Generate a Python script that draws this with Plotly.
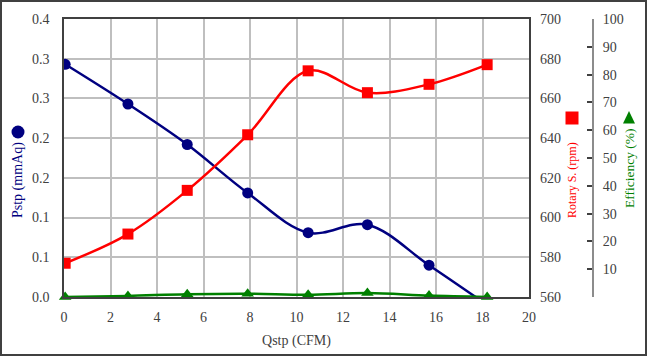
import plotly.graph_objects as go

# ---- data ----
qstp = [0.05, 2.75, 5.3, 7.9, 10.5, 13.05, 15.7, 18.2]
pstp = [0.293, 0.243, 0.192, 0.131, 0.081, 0.091, 0.040, -0.010]
rotary = [577, 591.7, 613.7, 641.7, 673.9, 662.9, 667.1, 677]
efficiency = [0.0, 0.4, 1.0, 1.2, 0.8, 1.4, 0.5, 0.0]

pstp_tickvals = [0, 0.05, 0.10, 0.15, 0.20, 0.25, 0.30, 0.35]
pstp_ticktext = ["0.0", "0.1", "0.1", "0.2", "0.2", "0.3", "0.3", "0.4"]
eff_tickvals = [0, 10, 20, 30, 40, 50, 60, 70, 80, 90, 100]
eff_ticktext = ["", "10", "20", "30", "40", "50", "60", "70", "80", "90", "100"]

NAVY = "#000080"
RED = "#FF0000"
GREEN = "#008000"
DARK = "#404040"
GRID = "#BFBFBF"
FONT = "Liberation Serif"

W, H = 647, 356
ML, MR, MT, MB = 64, 54, 19, 59
PW = W - ML - MR
PH = H - MT - MB
XEND = 529


def px(x):
    return (x - ML) / PW


def py(y):
    return (H - MB - y) / PH


fig = go.Figure()
fig.add_trace(go.Scatter(
    x=qstp, y=pstp, mode="lines+markers", name="Pstp",
    line=dict(color=NAVY, width=2.5, shape="spline", smoothing=1.0),
    marker=dict(symbol="circle", size=11, color=NAVY), yaxis="y"))
fig.add_trace(go.Scatter(
    x=qstp, y=rotary, mode="lines+markers", name="Rotary S.",
    line=dict(color=RED, width=2.5, shape="spline", smoothing=1.0),
    marker=dict(symbol="square", size=11, color=RED), yaxis="y2"))
fig.add_trace(go.Scatter(
    x=qstp, y=efficiency, mode="lines+markers", name="Efficiency",
    line=dict(color=GREEN, width=2.5, shape="spline", smoothing=1.0),
    marker=dict(symbol="triangle-up", size=11, color=GREEN), yaxis="y3",
    cliponaxis=False))

tickfont = dict(family=FONT, size=14, color=DARK)

fig.update_layout(
    width=W, height=H,
    margin=dict(l=ML, r=MR, t=MT, b=MB, pad=0, autoexpand=False),
    paper_bgcolor="white", plot_bgcolor="white",
    showlegend=False,
    font=dict(family=FONT, size=14, color=DARK),
    xaxis=dict(
        domain=[0, (XEND - ML) / PW], range=[0, 20], dtick=2,
        showgrid=True, gridcolor=GRID, gridwidth=1.5,
        showline=True, linecolor=DARK, linewidth=1.5, mirror=True,
        ticks="", tickfont=tickfont, ticklabelstandoff=6,
        zeroline=False, automargin=False,
        title=dict(text="Qstp (CFM)", font=dict(family=FONT, size=14, color=DARK), standoff=12),
    ),
    yaxis=dict(
        range=[0, 0.35], tickvals=pstp_tickvals, ticktext=pstp_ticktext,
        showgrid=True, gridcolor=GRID, gridwidth=1.5,
        showline=True, linecolor=DARK, linewidth=1.5, mirror=True,
        ticks="", tickfont=tickfont, ticklabelstandoff=10, zeroline=False,
        automargin=False,
    ),
    yaxis2=dict(
        range=[560, 700], dtick=20, overlaying="y", side="right", anchor="x",
        showgrid=False, showline=False, ticks="", tickfont=tickfont,
        ticklabelstandoff=10, zeroline=False, automargin=False,
    ),
    yaxis3=dict(
        range=[0, 100], tickvals=eff_tickvals, ticktext=eff_ticktext,
        overlaying="y", side="right", anchor="free", position=1.0,
        showgrid=False, showline=True, linecolor="#8C8C8C", linewidth=2,
        ticks="inside", ticklen=5, tickcolor=DARK, tickwidth=1.5,
        tickfont=tickfont, ticklabelstandoff=6, zeroline=False,
        automargin=False,
    ),
)

# axis titles (rotated) as annotations
fig.add_annotation(x=px(18), y=py(180), xref="paper", yref="paper",
                   text="Pstp (mmAq)", textangle=-90, showarrow=False,
                   font=dict(family=FONT, size=14, color=NAVY),
                   xanchor="center", yanchor="middle")
fig.add_annotation(x=px(572), y=py(180), xref="paper", yref="paper",
                   text="Rotary S. (rpm)", textangle=-90, showarrow=False,
                   font=dict(family=FONT, size=12, color=RED),
                   xanchor="center", yanchor="middle")
fig.add_annotation(x=px(629), y=py(168), xref="paper", yref="paper",
                   text="Efficiency (%)", textangle=-90, showarrow=False,
                   font=dict(family=FONT, size=13.5, color=GREEN),
                   xanchor="center", yanchor="middle")

# legend-like symbols next to the axis titles
fig.add_shape(type="circle", xref="paper", yref="paper",
              x0=px(11.5), x1=px(24.5), y0=py(125.5), y1=py(138.5),
              fillcolor=NAVY, line=dict(width=0))
fig.add_shape(type="rect", xref="paper", yref="paper",
              x0=px(565.5), x1=px(578.5), y0=py(111.5), y1=py(124.5),
              fillcolor=RED, line=dict(width=0))
fig.add_shape(type="path", xref="paper", yref="paper",
              path="M {:.5f},{:.5f} L {:.5f},{:.5f} L {:.5f},{:.5f} Z".format(
                  px(623), py(123.5), px(635), py(123.5), px(629), py(111)),
              fillcolor=GREEN, line=dict(width=0))

# outer frame of the chart
fig.add_shape(type="rect", xref="paper", yref="paper",
              x0=px(1), x1=px(W - 1), y0=py(1), y1=py(H - 1),
              line=dict(color=DARK, width=2), fillcolor="rgba(0,0,0,0)",
              layer="above")

fig.write_html(
    "out.html",
    config={"displayModeBar": False},
    post_script="document.body.style.margin='0';document.body.style.overflow='hidden';",
)
